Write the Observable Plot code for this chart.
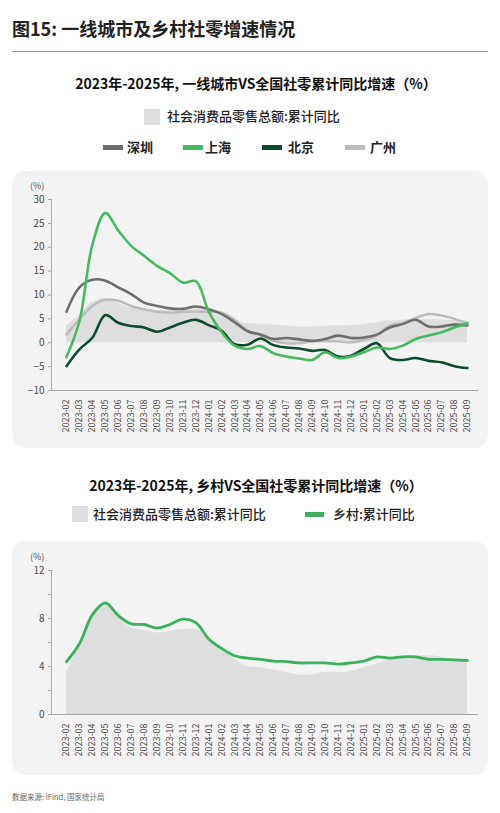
<!DOCTYPE html>
<html>
<head>
<meta charset="utf-8">
<script src="https://cdn.jsdelivr.net/npm/d3@7"></script>
<script src="https://cdn.jsdelivr.net/npm/@observablehq/plot@0.6"></script>
<style>
  html, body { margin: 0; padding: 0; background: #fff; }
  body { width: 500px; height: 813px; position: relative; overflow: hidden;
         font-family: "Noto Sans CJK SC", "Noto Sans", sans-serif; color: #222; }
  .abs { position: absolute; white-space: nowrap; }
  .title { left: 12px; top: 15px; font-size: 18px; line-height: 26px; font-weight: bold; color: #222; }
  .hr { left: 12px; top: 51px; width: 476px; height: 1px; background: #9a9a9a; }
  .sub { left: 6px; width: 500px; text-align: center; font-size: 14px; font-weight: bold; line-height: 20px; color: #111; }
  .leg { font-size: 13px; line-height: 18px; color: #222; }
  .sq { width: 16px; height: 16px; background: #dedede; }
  .ln { height: 5px; }
  .panel { left: 12px; width: 476px; background: #f3f3f3; border-radius: 14px; }
  .unit { font-size: 9px; color: #555; line-height: 12px; }
  .src { left: 12px; top: 791px; font-size: 7.5px; color: #666; line-height: 12px; }
  .chart { position: absolute; left: 12px; }
</style>
</head>
<body>
<script>
// ---- data ----
const months = ["2023-02","2023-03","2023-04","2023-05","2023-06","2023-07","2023-08","2023-09","2023-10","2023-11","2023-12",
  "2024-01","2024-02","2024-03","2024-04","2024-05","2024-06","2024-07","2024-08","2024-09","2024-10","2024-11","2024-12",
  "2025-01","2025-02","2025-03","2025-04","2025-05","2025-06","2025-07","2025-08","2025-09"];
const national = [3.5,5.8,8.5,9.2,8.2,7.2,7.0,6.8,6.9,7.1,7.1,6.4,5.5,4.6,4.0,3.9,3.7,3.5,3.3,3.3,3.5,3.5,3.6,3.9,4.2,4.6,4.7,4.9,4.9,4.8,4.6,4.5];
const shenzhen = [6.5,11.6,13.2,13.0,11.6,10.2,8.4,7.7,7.2,7.1,7.6,7.0,6.0,4.3,2.4,1.7,0.8,1.0,0.7,0.4,0.8,1.5,1.0,1.1,1.7,3.2,3.9,4.8,3.4,3.4,3.8,3.6];
const shanghai = [-3.0,4.5,20.5,27.2,23.5,20.3,18.2,16.1,14.6,12.6,12.9,6.5,2.2,-0.6,-1.3,-0.7,-2.2,-2.9,-3.3,-3.6,-2.0,-3.2,-2.9,-2.0,-1.0,-1.3,-0.6,0.8,1.5,2.2,3.2,4.1];
const beijing = [-4.9,-1.4,1.05,5.8,4.2,3.5,3.2,2.3,3.2,4.2,4.8,3.7,2.5,-0.3,-0.4,0.9,-0.5,-1.0,-1.2,-1.7,-1.5,-2.9,-2.7,-1.3,-0.1,-3.2,-3.6,-3.2,-3.8,-4.1,-4.9,-5.3];
const guangzhou = [1.75,4.9,7.7,9.0,8.8,7.7,7.0,6.5,6.3,6.5,6.5,6.5,6.3,4.8,2.5,1.8,0.4,-0.1,-0.1,0.3,0.4,0.3,0.1,0.6,1.5,3.6,4.1,5.2,6.0,5.7,5.0,4.1];
const rural = [4.4,5.9,8.3,9.3,8.25,7.55,7.5,7.2,7.5,7.95,7.65,6.3,5.5,4.9,4.7,4.6,4.45,4.4,4.3,4.3,4.3,4.2,4.3,4.45,4.8,4.7,4.8,4.8,4.6,4.6,4.55,4.5];
const topTicks = [-10,-5,0,5,10,15,20,25,30];
const bottomTickMarks = [0,2,4,6,8,10,12];
const bottomTickLabels = [0,4,8,12];

const cityNames = ["深圳","上海","北京","广州"];
const cityColors = {"深圳":"#6e6e6e","上海":"#45ba62","北京":"#0f4b2c","广州":"#bdbdbd"};
const cityData = {"深圳":shenzhen,"上海":shanghai,"北京":beijing,"广州":guangzhou};
const nationalLabel = "社会消费品零售总额:累计同比";
const ruralLabel = "乡村:累计同比";

// ---- static layout ----
function add(cls, style, text) {
  const d = document.createElement("div");
  d.className = "abs " + cls;
  Object.assign(d.style, style);
  if (text != null) d.textContent = text;
  document.body.appendChild(d);
  return d;
}
add("title", {}, "图15: 一线城市及乡村社零增速情况");
add("hr", {});
add("sub", {top: "73px"}, "2023年-2025年, 一线城市VS全国社零累计同比增速（%）");
add("sq", {left: "144px", top: "109px"});
add("leg", {left: "167px", top: "107px", fontWeight: "500"}, nationalLabel);
const legPos = [[103,127],[183,205],[262,288],[345,370]];
cityNames.forEach((c, k) => {
  add("ln", {left: legPos[k][0] + "px", top: "145px", width: "20px", background: cityColors[c]});
  add("leg", {left: legPos[k][1] + "px", top: "138px", fontWeight: "bold"}, c);
});
add("panel", {top: "171px", height: "277px"});
add("unit", {left: "30px", top: "180px"}, "(%)");

add("sub", {top: "475px"}, "2023年-2025年, 乡村VS全国社零累计同比增速（%）");
add("sq", {left: "72px", top: "506px"});
add("leg", {left: "93px", top: "505px", fontWeight: "500"}, nationalLabel);
add("ln", {left: "305px", top: "512px", width: "19px", background: "#3db05f"});
add("leg", {left: "333px", top: "505px", fontWeight: "500"}, ruralLabel);
add("panel", {top: "541px", height: "234px"});
add("unit", {left: "30px", top: "551px"}, "(%)");
add("src", {}, "数据来源: iFind, 国家统计局");

// ---- charts ----
const tbl = months.map((m, i) => ({i, m, national: national[i], rural: rural[i]}));
const long = cityNames.flatMap(c => months.map((m, i) => ({i, city: c, v: cityData[c][i]})));
const xDomain = [-1.16, 31.86];
const font = "'Noto Sans CJK SC', 'Noto Sans', sans-serif";

const chartTop = Plot.plot({
  width: 476, height: 278, marginLeft: 39, marginRight: 10, marginTop: 29, marginBottom: 58,
  style: {background: "transparent", fontFamily: font, fontSize: "10px", color: "#555", overflow: "visible"},
  x: {type: "linear", domain: xDomain},
  y: {domain: [-10, 30]},
  marks: [
    Plot.areaY(tbl, {x: "i", y1: 0, y2: "national", fill: "#dedede", curve: "monotone-x"}),
    Plot.ruleY([-10], {stroke: "#a8a8a8"}),
    Plot.ruleX([xDomain[0]], {stroke: "#a8a8a8"}),
    ...["广州","深圳","北京","上海"].map(c =>
      Plot.lineY(long.filter(d => d.city === c), {x: "i", y: "v", stroke: cityColors[c], strokeWidth: 2.6, curve: "catmull-rom"})),
    Plot.axisX(d3.range(months.length), {tickFormat: i => months[i], tickRotate: -90, tickSize: 0, tickPadding: 9, fontSize: 9, fill: "#4a4a4a", label: null}),
    Plot.axisY(topTicks, {tickSize: 3, tickPadding: 4, stroke: "#a8a8a8", fill: "#4a4a4a", fontSize: 10, label: null})
  ]
});
chartTop.classList.add("chart");
chartTop.style.top = "170px";
document.body.appendChild(chartTop);

const chartBot = Plot.plot({
  width: 476, height: 234, marginLeft: 39, marginRight: 10, marginTop: 29, marginBottom: 61,
  style: {background: "transparent", fontFamily: font, fontSize: "10px", color: "#555", overflow: "visible"},
  x: {type: "linear", domain: xDomain},
  y: {domain: [0, 12]},
  marks: [
    Plot.areaY(tbl, {x: "i", y1: 0, y2: "national", fill: "#dedede", curve: "monotone-x"}),
    Plot.ruleY([0], {stroke: "#a8a8a8"}),
    Plot.ruleX([xDomain[0]], {stroke: "#a8a8a8"}),
    Plot.lineY(tbl, {x: "i", y: "rural", stroke: "#3db05f", strokeWidth: 2.8, curve: "catmull-rom"}),
    Plot.axisX(d3.range(months.length), {tickFormat: i => months[i], tickRotate: -90, tickSize: 0, tickPadding: 9, fontSize: 9, fill: "#4a4a4a", label: null}),
    Plot.axisY(bottomTickMarks, {tickSize: 3, tickFormat: () => "", stroke: "#a8a8a8", label: null}),
    Plot.axisY(bottomTickLabels, {tickSize: 0, tickPadding: 7, fill: "#4a4a4a", fontSize: 10, label: null})
  ]
});
chartBot.classList.add("chart");
chartBot.style.top = "541px";
document.body.appendChild(chartBot);
</script>
</body>
</html>
